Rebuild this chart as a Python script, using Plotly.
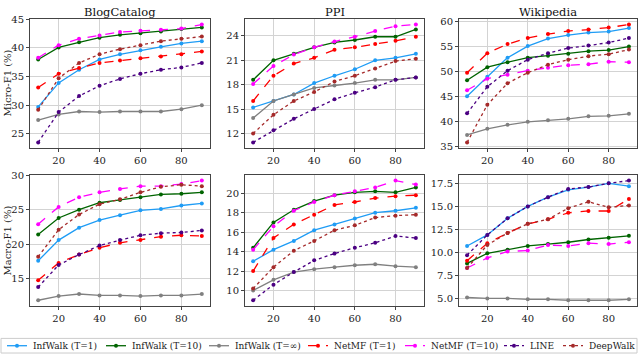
import plotly.graph_objects as go

x_vals = [10, 20, 30, 40, 50, 60, 70, 80, 90]
datasets = ["BlogCatalog", "PPI", "Wikipedia"]
methods = ["InfWalk (T=1)", "InfWalk (T=10)", "InfWalk (T=∞)", "NetMF (T=1)",
           "NetMF (T=10)", "LINE", "DeepWalk"]

# Micro-F1
micro_blog = {
    "InfWalk (T=1)": [29.7, 33.9, 36.2, 38.0, 38.9, 39.6, 40.2, 40.8, 41.2],
    "InfWalk (T=10)": [38.0, 40.1, 41.0, 41.8, 42.3, 42.6, 42.9, 43.3, 43.6],
    "InfWalk (T=∞)": [27.4, 28.4, 28.9, 28.8, 28.9, 28.9, 28.9, 29.3, 30.0],
    "NetMF (T=1)": [33.1, 35.5, 36.5, 37.4, 37.8, 38.2, 38.5, 38.9, 39.4],
    "NetMF (T=10)": [38.3, 40.5, 41.6, 42.2, 42.8, 43.0, 43.2, 43.4, 44.1],
    "LINE": [23.5, 28.8, 31.6, 33.4, 34.6, 35.5, 36.2, 36.6, 37.4],
    "DeepWalk": [29.2, 34.7, 37.4, 38.9, 39.8, 40.5, 41.2, 41.6, 42.0],
}
micro_ppi = {
    "InfWalk (T=1)": [15.2, 16.0, 16.8, 18.2, 19.1, 19.9, 21.0, 21.3, 21.8],
    "InfWalk (T=10)": [18.6, 21.0, 21.8, 22.6, 23.2, 23.5, 23.9, 23.9, 24.8],
    "InfWalk (T=∞)": [13.9, 16.0, 16.8, 17.6, 17.9, 18.2, 18.6, 18.6, 18.9],
    "NetMF (T=1)": [16.0, 19.1, 20.6, 21.3, 22.3, 22.6, 23.0, 23.4, 23.9],
    "NetMF (T=10)": [18.1, 20.3, 21.7, 22.6, 23.3, 23.9, 24.6, 25.2, 25.4],
    "LINE": [10.9, 12.4, 13.8, 15.0, 16.2, 17.0, 17.7, 18.6, 18.9],
    "DeepWalk": [12.0, 14.3, 16.0, 17.1, 18.4, 19.1, 20.0, 20.9, 21.2],
}
micro_wiki = {
    "InfWalk (T=1)": [45.0, 48.9, 52.7, 55.0, 56.5, 57.2, 57.7, 57.9, 58.6],
    "InfWalk (T=10)": [48.2, 50.8, 51.8, 52.7, 53.1, 53.5, 54.0, 54.2, 54.9],
    "InfWalk (T=∞)": [37.3, 38.5, 39.3, 39.9, 40.2, 40.5, 41.0, 41.1, 41.5],
    "NetMF (T=1)": [49.7, 53.6, 55.4, 56.6, 57.4, 58.0, 58.3, 58.7, 59.3],
    "NetMF (T=10)": [46.2, 48.5, 49.3, 50.1, 50.7, 51.2, 51.4, 51.9, 51.8],
    "LINE": [41.6, 46.9, 50.1, 52.3, 53.6, 54.6, 55.1, 55.7, 56.6],
    "DeepWalk": [35.8, 43.3, 47.6, 49.7, 51.3, 52.3, 53.0, 53.4, 54.3],
}
# Macro-F1
macro_blog = {
    "InfWalk (T=1)": [17.6, 20.6, 22.4, 23.5, 24.2, 24.9, 25.1, 25.6, 25.9],
    "InfWalk (T=10)": [21.4, 23.8, 25.0, 26.0, 26.4, 26.8, 27.2, 27.3, 27.5],
    "InfWalk (T=∞)": [11.9, 12.5, 12.8, 12.6, 12.6, 12.5, 12.6, 12.6, 12.8],
    "NetMF (T=1)": [14.8, 17.3, 18.5, 19.5, 20.2, 20.6, 21.1, 21.3, 21.2],
    "NetMF (T=10)": [22.9, 25.4, 26.8, 27.5, 28.0, 28.4, 28.4, 28.7, 29.2],
    "LINE": [13.8, 17.0, 18.5, 19.8, 20.6, 21.3, 21.6, 21.7, 22.0],
    "DeepWalk": [18.2, 22.1, 24.3, 25.8, 26.5, 27.5, 28.3, 28.6, 28.4],
}
macro_ppi = {
    "InfWalk (T=1)": [13.0, 14.2, 15.1, 16.2, 16.8, 17.4, 18.0, 18.2, 18.5],
    "InfWalk (T=10)": [14.4, 17.0, 18.3, 19.2, 19.8, 20.1, 20.2, 20.1, 20.6],
    "InfWalk (T=∞)": [10.0, 11.1, 11.9, 12.2, 12.4, 12.6, 12.7, 12.5, 12.4],
    "NetMF (T=1)": [12.0, 15.4, 16.8, 17.8, 18.8, 19.1, 19.5, 19.7, 19.8],
    "NetMF (T=10)": [14.2, 16.6, 18.2, 19.1, 19.8, 20.2, 20.6, 21.3, 20.9],
    "LINE": [9.0, 10.6, 11.9, 13.1, 13.8, 14.4, 14.9, 15.6, 15.4],
    "DeepWalk": [10.2, 12.4, 14.1, 15.1, 16.2, 16.7, 17.5, 17.7, 17.8],
}
macro_wiki = {
    "InfWalk (T=1)": [10.7, 11.9, 13.7, 15.0, 16.0, 16.8, 17.1, 17.5, 17.2],
    "InfWalk (T=10)": [8.8, 9.9, 10.3, 10.7, 10.9, 11.1, 11.4, 11.6, 11.8],
    "InfWalk (T=∞)": [5.1, 5.0, 5.0, 4.9, 4.9, 4.8, 4.8, 4.8, 4.9],
    "NetMF (T=1)": [9.1, 11.0, 12.1, 13.1, 13.6, 14.3, 14.5, 14.5, 15.8],
    "NetMF (T=10)": [8.3, 9.4, 10.1, 10.2, 10.8, 10.7, 11.0, 10.9, 11.1],
    "LINE": [9.7, 11.9, 13.7, 15.0, 16.0, 16.9, 17.1, 17.5, 17.8],
    "DeepWalk": [8.3, 10.8, 12.1, 13.1, 13.6, 14.8, 15.5, 14.9, 15.1],
}

x_ticks = [20, 40, 60, 80]
y_ticks = [
    [25, 30, 35, 40, 45], [12, 15, 18, 21, 24], [35, 40, 45, 50, 55, 60],
    [15, 20, 25, 30], [10, 12, 14, 16, 18, 20], [5.0, 7.5, 10.0, 12.5, 15.0, 17.5],
]
y_tick_text = [
    None, None, None, None, None, ["5.0", "7.5", "10.0", "12.5", "15.0", "17.5"],
]

styles = {
    "InfWalk (T=1)": dict(color="#1f9cf5", dash="solid"),
    "InfWalk (T=10)": dict(color="#006400", dash="solid"),
    "InfWalk (T=∞)": dict(color="#808080", dash="solid"),
    "NetMF (T=1)": dict(color="#ff0000", dash="dash"),
    "NetMF (T=10)": dict(color="#ff00ff", dash="dash"),
    "LINE": dict(color="#4b0082", dash="dot"),
    "DeepWalk": dict(color="#a52a2a", dash="dot"),
}

panels = [micro_blog, micro_ppi, micro_wiki, macro_blog, macro_ppi, macro_wiki]

W, H = 640, 358
col_px = [(30, 210), (245, 424), (459, 637)]
row_px = [(14, 147), (174, 309)]
FONT = "DejaVu Serif"

fig = go.Figure()
layout = {}
for i, panel in enumerate(panels):
    r, c = divmod(i, 3)
    ax = "" if i == 0 else str(i + 1)
    for m in methods:
        st = styles[m]
        fig.add_trace(go.Scatter(
            x=x_vals, y=panel[m], mode="lines+markers", name=m,
            legendgroup=m, showlegend=False,
            line=dict(color=st["color"], dash=st["dash"], width=1.3),
            marker=dict(color=st["color"], size=4),
            xaxis="x" + ax, yaxis="y" + ax,
        ))
    allv = [v for m in methods for v in panel[m]]
    lo, hi = min(allv), max(allv)
    pad = (hi - lo) * 0.05
    x0, x1 = col_px[c]
    y0, y1 = row_px[r]
    common = dict(showline=True, linecolor="#444", linewidth=1, mirror=True,
                  showgrid=True, gridcolor="#d3d3d3", gridwidth=1,
                  ticks="outside", ticklen=3, tickcolor="#444",
                  tickfont=dict(family=FONT, size=10, color="#222"), zeroline=False)
    layout["xaxis" + ax] = dict(domain=[x0 / W, x1 / W], range=[6, 94],
                                tickvals=x_ticks, anchor="y" + ax, **common)
    yd = dict(domain=[1 - y1 / H, 1 - y0 / H], range=[lo - pad, hi + pad],
              tickvals=y_ticks[i], anchor="x" + ax, **common)
    if y_tick_text[i]:
        yd["ticktext"] = y_tick_text[i]
    layout["yaxis" + ax] = yd

fig.update_layout(**layout)

ann = []
shapes = []
for c, name in enumerate(datasets):
    x0, x1 = col_px[c]
    ann.append(dict(text=name, x=(x0 + x1) / 2 / W, y=1 - 7 / H, xref="paper", yref="paper",
                    showarrow=False, font=dict(family=FONT, size=11.5, color="#111"),
                    xanchor="center", yanchor="middle"))
for r, lab in enumerate(["Micro-F1 (%)", "Macro-F1 (%)"]):
    y0, y1 = row_px[r]
    ann.append(dict(text=lab, x=7 / W, y=1 - (y0 + y1) / 2 / H, xref="paper", yref="paper",
                    showarrow=False, textangle=-90, font=dict(family=FONT, size=10, color="#222"),
                    xanchor="center", yanchor="middle"))

# Legend (drawn as layout items in a single framed row)
leg_top, leg_bot, leg_y = 342, 357, 349.5
shapes.append(dict(type="rect", xref="paper", yref="paper",
                   x0=1 / W, x1=637 / W, y0=1 - leg_bot / H, y1=1 - leg_top / H,
                   line=dict(color="#cccccc", width=1), fillcolor="white"))
leg_starts = [7, 106, 209, 308, 405, 504, 563]
for m, s in zip(methods, leg_starts):
    st = styles[m]
    shapes.append(dict(type="line", xref="paper", yref="paper",
                       x0=s / W, x1=(s + 20) / W, y0=1 - leg_y / H, y1=1 - leg_y / H,
                       line=dict(color=st["color"], dash=st["dash"], width=1.3)))
    shapes.append(dict(type="circle", xref="paper", yref="paper",
                       x0=(s + 8) / W, x1=(s + 12) / W,
                       y0=1 - (leg_y + 2) / H, y1=1 - (leg_y - 2) / H,
                       line=dict(color=st["color"], width=0), fillcolor=st["color"]))
    ann.append(dict(text=m, x=(s + 24) / W, y=1 - leg_y / H, xref="paper", yref="paper",
                    showarrow=False, font=dict(family=FONT, size=9, color="#222"),
                    xanchor="left", yanchor="middle"))

fig.update_layout(
    width=W, height=H, margin=dict(l=0, r=0, t=0, b=0),
    paper_bgcolor="white", plot_bgcolor="white",
    annotations=ann, shapes=shapes, showlegend=False,
)

fig.write_html("out.html", config={"displayModeBar": False},
               post_script="document.body.style.margin='0px';")
